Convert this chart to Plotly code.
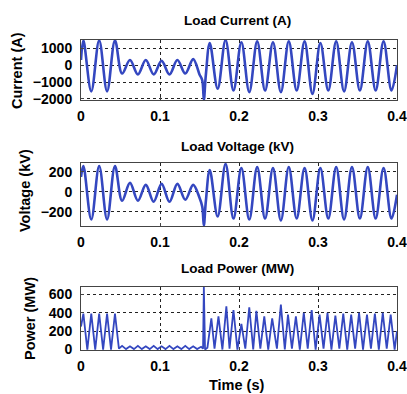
import plotly.graph_objects as go

# ---- data ----
# Load current (A): extrema of the waveform
cur_t = [0.000, 0.003, 0.013, 0.023, 0.033, 0.043, 0.052, 0.062, 0.072, 0.082, 0.092,
         0.102, 0.112, 0.122, 0.132, 0.142, 0.150, 0.1535, 0.1555, 0.158, 0.163, 0.173,
         0.183, 0.193, 0.203, 0.213, 0.223, 0.233, 0.243, 0.253, 0.263, 0.273, 0.283,
         0.293, 0.303, 0.313, 0.323, 0.333, 0.343, 0.353, 0.363, 0.373, 0.383, 0.393, 0.400]
cur_v = [300, 1450, -1550, 1450, -1550, 1450, -500, 300, -550, 300, -550,
         250, -550, 300, -500, 350, -550, -900, -2050, -600, 1300, -1400,
         1480, -1500, 1350, -1600, 1400, -1500, 1350, -1600, 1400, -1500, 1400,
         -1700, 1300, -1500, 1400, -1550, 1350, -1500, 1400, -1500, 1400, -1500, 0]

# Load voltage (kV)
vol_t = cur_t
vol_v = [150, 260, -280, 260, -280, 260, -90, 90, -90, 70, -100,
         80, -100, 80, -80, 70, -60, -150, -340, -100, 220, -250,
         280, -270, 240, -280, 250, -270, 240, -290, 250, -270, 240,
         -290, 240, -270, 250, -280, 250, -270, 250, -270, 240, -270, -30]

# Load power (MW)
pow_t = [0.000, 0.003, 0.008, 0.013, 0.018, 0.023, 0.028, 0.033, 0.038, 0.043, 0.048,
         0.052, 0.057, 0.062, 0.067, 0.072, 0.077, 0.082, 0.087, 0.092, 0.097, 0.102,
         0.107, 0.112, 0.117, 0.122, 0.127, 0.132, 0.137, 0.142, 0.147, 0.152, 0.1545,
         0.1555, 0.157, 0.160, 0.165, 0.169, 0.174, 0.179, 0.184, 0.188, 0.193, 0.198,
         0.203, 0.208, 0.213, 0.218, 0.222, 0.227, 0.232, 0.237, 0.242, 0.248, 0.253,
         0.258, 0.262, 0.267, 0.272, 0.277, 0.282, 0.287, 0.292, 0.297, 0.302, 0.307,
         0.312, 0.317, 0.322, 0.327, 0.332, 0.337, 0.342, 0.347, 0.352, 0.357, 0.362,
         0.367, 0.372, 0.377, 0.382, 0.387, 0.392, 0.397, 0.400]
pow_v = [250, 390, 0, 390, 0, 390, 0, 390, 0, 390, 10,
         40, 5, 35, 5, 40, 5, 35, 5, 40, 5, 35,
         5, 40, 5, 35, 5, 40, 5, 35, 5, 30, 10,
         680, 0, 20, 340, 10, 360, 0, 470, 10, 430, 0,
         280, 10, 460, 0, 420, 10, 360, 0, 340, 10, 490,
         0, 380, 10, 360, 0, 400, 10, 430, 0, 380, 10,
         400, 0, 370, 10, 390, 0, 380, 10, 400, 0, 380,
         10, 390, 0, 400, 10, 380, 0, 200]

x_ticks = [0, 0.1, 0.2, 0.3, 0.4]
x_labels = ["0", "0.1", "0.2", "0.3", "0.4"]
cur_ticks = [-2000, -1000, 0, 1000]
vol_ticks = [-200, 0, 200]
pow_ticks = [0, 200, 400, 600]

titles = ["Load Current (A)", "Load Voltage (kV)", "Load Power (MW)"]
ylabels = ["Current (A)", "Voltage (kV)", "Power (MW)"]
xlabel = "Time (s)"

# ---- figure ----
W, H = 407, 394
ML, MR, MT, MB = 81, 10, 40, 44
PH = H - MT - MB
FONT = "Liberation Sans, Arial, sans-serif"
BLUE = "#3447c0"

def py(px):
    return (H - MB - px) / PH

fig = go.Figure()
fig.add_trace(go.Scatter(x=cur_t, y=cur_v, mode="lines", line=dict(color=BLUE, width=2.6, shape="spline", smoothing=1.0),
                         xaxis="x", yaxis="y", showlegend=False))
fig.add_trace(go.Scatter(x=vol_t, y=vol_v, mode="lines", line=dict(color=BLUE, width=2.6, shape="spline", smoothing=1.0),
                         xaxis="x2", yaxis="y2", showlegend=False))
fig.add_trace(go.Scatter(x=pow_t, y=pow_v, mode="lines", line=dict(color=BLUE, width=1.8),
                         xaxis="x3", yaxis="y3", showlegend=False))

tickfont = dict(family=FONT, size=14, color="black", weight="bold")
common_x = dict(range=[0, 0.4], tickvals=x_ticks, ticktext=x_labels, showgrid=True,
                gridcolor="#222", griddash="dot", gridwidth=1, showline=True, mirror=True,
                linecolor="#444", linewidth=1, ticks="inside", ticklen=3, tickcolor="#444",
                tickfont=tickfont, zeroline=False, ticklabelstandoff=3, automargin=False)
common_y = dict(showgrid=True, gridcolor="#222", griddash="dot", gridwidth=1, showline=True,
                mirror=True, linecolor="#444", linewidth=1, ticks="inside", ticklen=3,
                tickcolor="#444", tickfont=tickfont, zeroline=False, ticklabelstandoff=5,
                automargin=False)

panels = [(40, 100), (163, 226), (287, 350)]
yranges = [[-2060, 1480], [-345, 290], [-5, 680]]
yticks = [cur_ticks, vol_ticks, pow_ticks]

layout = dict(width=W, height=H, margin=dict(l=ML, r=MR, t=MT, b=MB, autoexpand=False),
              paper_bgcolor="white", plot_bgcolor="white", showlegend=False)
for i, ((top, bot), yr, yt) in enumerate(zip(panels, yranges, yticks)):
    sfx = "" if i == 0 else str(i + 1)
    layout["xaxis" + sfx] = dict(common_x, domain=[0, 1], anchor="y" + sfx)
    layout["yaxis" + sfx] = dict(common_y, domain=[py(bot), py(top)], range=yr, tickvals=yt,
                                 anchor="x" + sfx)
fig.update_layout(**layout)

# titles
title_y = [20, 146, 268]
for t, ty in zip(titles, title_y):
    fig.add_annotation(text=t, x=(237 - ML) / (W - ML - MR), y=py(ty), xref="paper", yref="paper",
                       showarrow=False, xanchor="center", yanchor="middle",
                       font=dict(family=FONT, size=13.5, color="black", weight="bold"))

# y labels
ylab_pos = [(17, 71), (25, 191), (30, 319)]
for t, (lx, ly) in zip(ylabels, ylab_pos):
    fig.add_annotation(text=t, x=(lx - ML) / (W - ML - MR), y=py(ly), xref="paper", yref="paper",
                       showarrow=False, xanchor="center", yanchor="middle", textangle=-90,
                       font=dict(family=FONT, size=14.5, color="black", weight="bold"))

fig.add_annotation(text=xlabel, x=(237 - ML) / (W - ML - MR), y=py(385), xref="paper", yref="paper",
                   showarrow=False, xanchor="center", yanchor="middle",
                   font=dict(family=FONT, size=14.5, color="black", weight="bold"))

fig.write_html("out.html")
